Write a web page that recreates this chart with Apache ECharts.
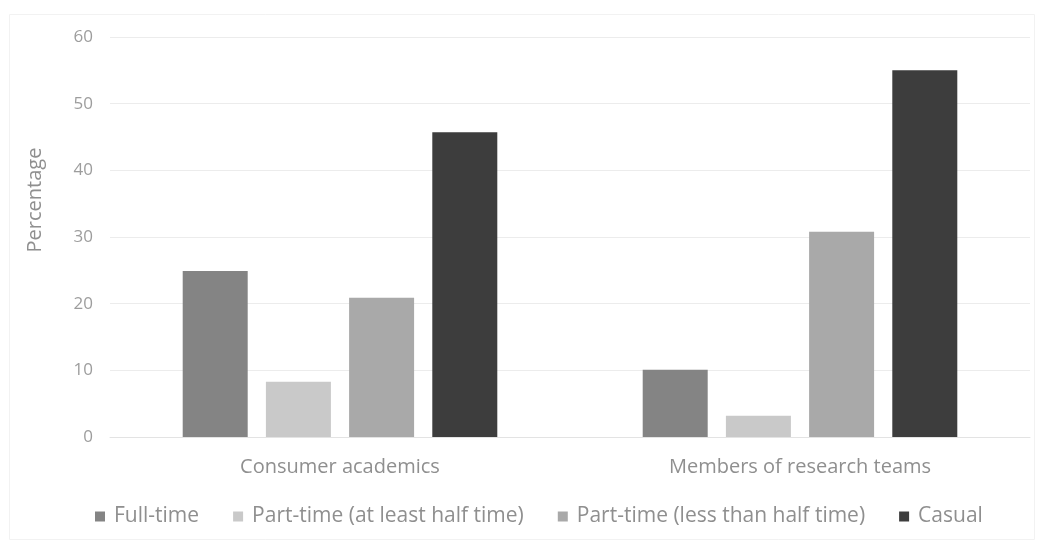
<!DOCTYPE html>
<html>
<head>
<meta charset="utf-8">
<script src="https://cdn.jsdelivr.net/npm/echarts@6/dist/echarts.min.js"></script>
<style>
html,body{margin:0;padding:0;background:#fff;}
#chart{width:1039px;height:544px;}
</style>
</head>
<body>
<div id="chart"></div>
<script>
var categories = ["Consumer academics", "Members of research teams"];
var seriesNames = ["Full-time", "Part-time (at least half time)", "Part-time (less than half time)", "Casual"];
var fullTime = [24.9, 10.1];
var partTimeAtLeastHalf = [8.3, 3.2];
var partTimeLessHalf = [20.9, 30.8];
var casual = [45.7, 55.0];
var yTicks = [0, 10, 20, 30, 40, 50, 60];
var colors = ["#848484", "#c9c9c9", "#a9a9a9", "#3d3d3d"];

var values = [fullTime, partTimeAtLeastHalf, partTimeLessHalf, casual];
var font = "'Open Sans', 'Noto Sans', sans-serif";

var chart = echarts.init(document.getElementById('chart'), null, {renderer: 'canvas'});
chart.setOption({
  animation: false,
  backgroundColor: '#ffffff',
  color: colors,
  graphic: [
    {type: 'rect', left: 7, top: 12, shape: {width: 1025, height: 525}, style: {fill: 'none', stroke: '#f2f2f2', lineWidth: 1}, silent: true},
    {type: 'text', x: 35, y: 200, rotation: Math.PI / 2, style: {text: 'Percentage', fill: '#8f8f8f', font: '20px ' + font, align: 'center', verticalAlign: 'middle'}}
  ],
  grid: {left: 110, right: 9, top: 37, bottom: 107, containLabel: false},
  legend: {
    bottom: 12,
    left: 90,
    itemWidth: 10,
    itemHeight: 10,
    itemGap: 34,
    icon: 'rect',
    textStyle: {color: '#8f8f8f', fontSize: 21, fontFamily: font, padding: [0, 0, 0, 4]},
    data: seriesNames
  },
  xAxis: {
    type: 'category',
    data: categories,
    axisLine: {lineStyle: {color: '#e3e3e3'}},
    axisTick: {show: false},
    axisLabel: {color: '#8f8f8f', fontSize: 20, fontFamily: font, margin: 20}
  },
  yAxis: {
    type: 'value',
    min: yTicks[0],
    max: yTicks[yTicks.length - 1],
    interval: 10,
    axisLine: {show: false},
    axisTick: {show: false},
    axisLabel: {color: '#9d9d9d', fontSize: 17, fontFamily: font, margin: 17},
    splitLine: {lineStyle: {color: '#ececec'}}
  },
  series: seriesNames.map(function (n, i) {
    return {
      name: n,
      type: 'bar',
      data: values[i],
      barWidth: 65,
      barGap: '28%',
      itemStyle: {color: colors[i]}
    };
  })
});
</script>
</body>
</html>
